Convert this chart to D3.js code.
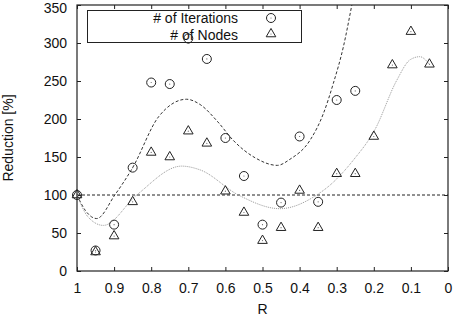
<!DOCTYPE html>
<html>
<head>
<meta charset="utf-8">
<script src="https://cdn.jsdelivr.net/npm/d3@7"></script>
<style>
  body { margin: 0; background: #fff; }
  text { font-family: "Liberation Sans", Arial, sans-serif; fill: #111; }
</style>
</head>
<body>
<div id="chart"></div>
<script>
// measured points
let rIter = [1, 0.95, 0.9, 0.85, 0.8, 0.75, 0.7, 0.65, 0.6, 0.55, 0.5, 0.45, 0.4, 0.35, 0.3, 0.25];
let iterations = [100, 27, 61, 136, 248, 246, 306, 279, 175, 125, 61, 90, 177, 91, 225, 237];

let rNodes = [1, 0.95, 0.9, 0.85, 0.8, 0.75, 0.7, 0.65, 0.6, 0.55, 0.5, 0.45, 0.4, 0.35, 0.3, 0.25, 0.2, 0.15, 0.1, 0.05];
let nodes = [100, 25, 46, 91, 156, 150, 184, 168, 105, 77, 40, 57, 106, 57, 128, 128, 177, 271, 315, 272];

// fitted curves
let fitIterR = [1, 0.978, 0.947, 0.898, 0.85, 0.78, 0.705, 0.668, 0.62, 0.579, 0.52, 0.46, 0.426, 0.372, 0.336, 0.309, 0.282, 0.26, 0.24];
let fitIterY = [100, 80, 69, 100, 136, 203, 226, 219, 196, 172, 149, 139, 147, 172, 207, 247, 295, 348, 400];
let fitNodeR = [1, 0.97, 0.929, 0.839, 0.718, 0.668, 0.565, 0.453, 0.354, 0.318, 0.255, 0.197, 0.138, 0.102, 0.076, 0.05];
let fitNodeY = [100, 71, 60, 100, 138, 133, 100, 82, 100, 113, 146, 186, 251, 278, 282, 272];

let xTicks = [1, 0.9, 0.8, 0.7, 0.6, 0.5, 0.4, 0.3, 0.2, 0.1, 0];
let yTicks = [0, 50, 100, 150, 200, 250, 300, 350];

let width = 455;
let height = 324;
let margin = {left: 77, right: 7, top: 5, bottom: 53};

let svg = d3.select("#chart").append("svg")
  .attr("width", width)
  .attr("height", height);

let x = d3.scaleLinear().domain([1, 0]).range([margin.left, width - margin.right]);
let y = d3.scaleLinear().domain([0, 350]).range([height - margin.bottom, margin.top]);

svg.append("clipPath").attr("id", "clip")
  .append("rect")
  .attr("x", x(1)).attr("y", y(350))
  .attr("width", x(0) - x(1)).attr("height", y(0) - y(350));

// axes with mirrored inward ticks
let tick = 4;
svg.append("g").attr("transform", "translate(0," + y(0) + ")")
  .call(d3.axisBottom(x).tickValues(xTicks).tickSize(-tick).tickPadding(12).tickFormat(d3.format("")))
  .call(g => g.select(".domain").remove());
svg.append("g").attr("transform", "translate(0," + y(350) + ")")
  .call(d3.axisTop(x).tickValues(xTicks).tickSize(-tick).tickFormat(""))
  .call(g => g.select(".domain").remove());
let yAxis = svg.append("g").attr("transform", "translate(" + x(1) + ",0)")
  .call(d3.axisLeft(y).tickValues(yTicks).tickSize(-tick).tickPadding(10))
  .call(g => g.select(".domain").remove());
svg.append("g").attr("transform", "translate(" + x(0) + ",0)")
  .call(d3.axisRight(y).tickValues(yTicks).tickSize(-tick).tickFormat(""))
  .call(g => g.select(".domain").remove());

svg.selectAll(".tick line").attr("stroke", "#222");
svg.selectAll(".tick text").style("font-size", "14px").attr("fill", "#111");
// keep the top label inside the window
yAxis.selectAll(".tick text").filter(d => d === 350).attr("y", 3);

svg.append("rect")
  .attr("x", x(1)).attr("y", y(350))
  .attr("width", x(0) - x(1)).attr("height", y(0) - y(350))
  .attr("fill", "none").attr("stroke", "#222").attr("stroke-width", 1.2);

// reference line at 100
svg.append("line")
  .attr("x1", x(1)).attr("x2", x(0))
  .attr("y1", y(100)).attr("y2", y(100))
  .attr("stroke", "#222").attr("stroke-dasharray", "3,2");

let plot = svg.append("g").attr("clip-path", "url(#clip)");

let line = d3.line().x(d => x(d[0])).y(d => y(d[1])).curve(d3.curveMonotoneX);

plot.append("path")
  .attr("d", line(d3.zip(fitIterR, fitIterY)))
  .attr("fill", "none").attr("stroke", "#333").attr("stroke-width", 1)
  .attr("stroke-dasharray", "3,2");

plot.append("path")
  .attr("d", line(d3.zip(fitNodeR, fitNodeY)))
  .attr("fill", "none").attr("stroke", "#999").attr("stroke-width", 1)
  .attr("stroke-dasharray", "1,1");

let tri = d3.symbol().type(d3.symbolTriangle).size(40);

function circleMark(g, cx, cy) {
  g.append("circle").attr("cx", cx).attr("cy", cy).attr("r", 4.5)
    .attr("fill", "none").attr("stroke", "#222").attr("stroke-width", 1);
  g.append("circle").attr("cx", cx).attr("cy", cy).attr("r", 0.6).attr("fill", "#666");
}
function triMark(g, cx, cy) {
  g.append("path").attr("d", tri()).attr("transform", "translate(" + cx + "," + cy + ")")
    .attr("fill", "none").attr("stroke", "#222").attr("stroke-width", 1);
  g.append("circle").attr("cx", cx).attr("cy", cy).attr("r", 0.6).attr("fill", "#666");
}

let marks = svg.append("g");
d3.zip(rIter, iterations).forEach(d => circleMark(marks, x(d[0]), y(d[1])));
d3.zip(rNodes, nodes).forEach(d => triMark(marks, x(d[0]), y(d[1])));

// legend
let leg = svg.append("g");
leg.append("rect").attr("x", 87.5).attr("y", 10.5).attr("width", 214).attr("height", 32)
  .attr("fill", "#fff").attr("stroke", "#222").attr("stroke-width", 1);
leg.append("text").attr("x", 238).attr("y", 23).attr("text-anchor", "end")
  .style("font-size", "14px").text("# of Iterations");
leg.append("text").attr("x", 238).attr("y", 40).attr("text-anchor", "end")
  .style("font-size", "14px").text("# of Nodes");
circleMark(leg, 271, 18);
triMark(leg, 271, 34);

// the circle at R=0.7 sits on top of the legend
circleMark(svg, x(0.7), y(306));

// axis titles
svg.append("text").attr("x", (x(1) + x(0)) / 2).attr("y", 314)
  .attr("text-anchor", "middle").style("font-size", "14px").text("R");
svg.append("text")
  .attr("transform", "translate(13," + (y(0) + y(350)) / 2 + ") rotate(-90)")
  .attr("text-anchor", "middle").style("font-size", "14px").text("Reduction [%]");
</script>
</body>
</html>
